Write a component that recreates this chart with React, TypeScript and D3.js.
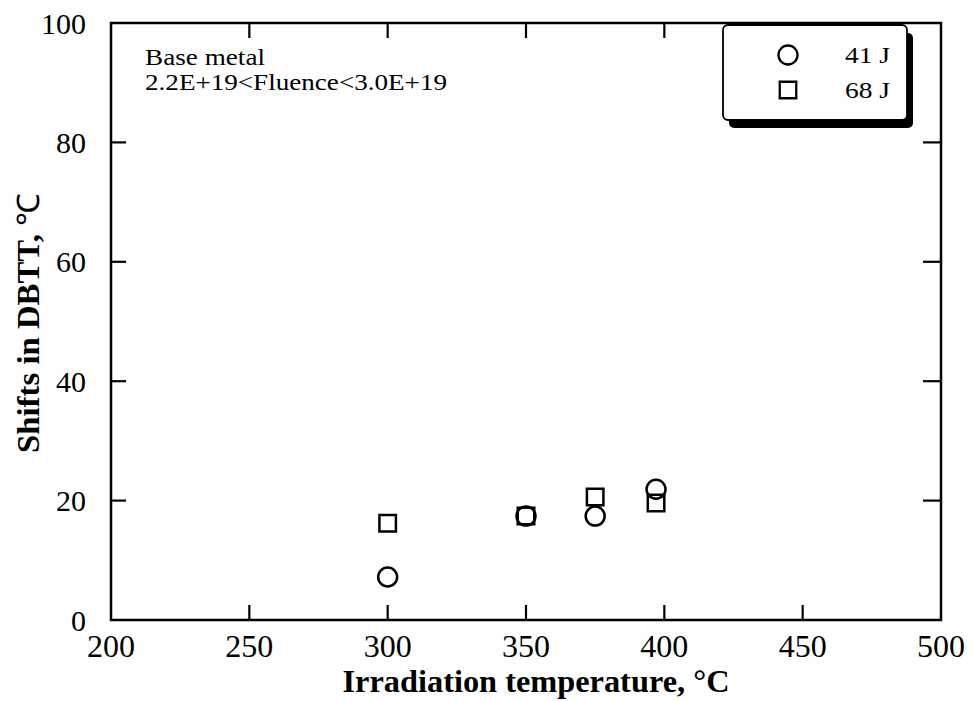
import React from "react";
import * as d3 from "d3";

const temps41 = [300, 350, 375, 397];
const shifts41 = [7.2, 17.4, 17.4, 21.9];
const temps68 = [300, 350, 375, 397];
const shifts68 = [16.2, 17.4, 20.6, 19.6];
const xTicks = [200, 250, 300, 350, 400, 450, 500];
const yTicks = [0, 20, 40, 60, 80, 100];
const legendLabels = ["41 J", "68 J"];

const W = 973;
const H = 701;
const FONT = "'Liberation Serif', 'Times New Roman', serif";

export default function App() {
  const x = d3.scaleLinear().domain([200, 500]).range([111, 941]);
  const y = d3.scaleLinear().domain([0, 100]).range([620, 23]);
  const [x0, x1] = x.range();
  const [y0, y1] = y.range();
  const circ = d3.symbol().type(d3.symbolCircle).size(Math.PI * 9.5 * 9.5);
  const sq = d3.symbol().type(d3.symbolSquare).size(16.5 * 16.5);
  const innerX = xTicks.filter((t) => t > 200 && t < 500);
  const innerY = yTicks.filter((t) => t > 0 && t < 100);

  const lx = 723, ly = 25, lw = 184, lh = 95;

  return (
    <svg
      width={W}
      height={H}
      style={{ position: "absolute", left: 0, top: 0, background: "#fff" }}
    >
      <rect x={0} y={0} width={W} height={H} fill="#fff" />
      {/* frame */}
      <rect x={x0} y={y1} width={x1 - x0} height={y0 - y1} fill="none" stroke="#000" strokeWidth={2.5} />
      {/* ticks */}
      {innerX.map((t) => (
        <g key={"xt" + t}>
          <line x1={x(t)} x2={x(t)} y1={y0} y2={y0 - 15} stroke="#000" strokeWidth={2.2} />
          <line x1={x(t)} x2={x(t)} y1={y1} y2={y1 + 15} stroke="#000" strokeWidth={2.2} />
        </g>
      ))}
      {innerY.map((t) => (
        <g key={"yt" + t}>
          <line x1={x0} x2={x0 + 15} y1={y(t)} y2={y(t)} stroke="#000" strokeWidth={2.2} />
          <line x1={x1} x2={x1 - 18} y1={y(t)} y2={y(t)} stroke="#000" strokeWidth={2.2} />
        </g>
      ))}
      {/* tick labels */}
      {xTicks.map((t) => (
        <text key={"xl" + t} x={x(t)} y={657} textAnchor="middle" fontFamily={FONT} fontSize={32} fill="#000">
          {t}
        </text>
      ))}
      {yTicks.map((t) => (
        <text key={"yl" + t} x={86} y={y(t)} dy="0.35em" textAnchor="end" fontFamily={FONT} fontSize={30} fill="#000">
          {t}
        </text>
      ))}
      {/* axis titles */}
      <text x={536} y={692} textAnchor="middle" fontFamily={FONT} fontSize={31} fontWeight="bold" fill="#000" textLength={387} lengthAdjust="spacingAndGlyphs">
        Irradiation temperature, °C
      </text>
      <text transform="translate(39,323) rotate(-90)" textAnchor="middle" fontFamily={FONT} fontSize={31} fontWeight="bold" fill="#000" textLength={260} lengthAdjust="spacingAndGlyphs">
        Shifts in DBTT, <tspan fontWeight="normal">℃</tspan>
      </text>
      {/* annotation */}
      <text x={145} y={65} fontFamily={FONT} fontSize={23} fill="#000" textLength={120} lengthAdjust="spacingAndGlyphs">
        Base metal
      </text>
      <text x={145} y={90} fontFamily={FONT} fontSize={23} fill="#000" textLength={302} lengthAdjust="spacingAndGlyphs">
        2.2E+19&lt;Fluence&lt;3.0E+19
      </text>
      {/* legend */}
      <rect x={lx + 6} y={ly + 8} width={lw} height={lh} rx={5} fill="#000" />
      <rect x={lx} y={ly} width={lw} height={lh} rx={5} fill="#fff" stroke="#000" strokeWidth={1.8} />
      <path d={circ() as string} transform={`translate(788,55)`} fill="none" stroke="#000" strokeWidth={2.3} />
      <path d={sq() as string} transform={`translate(788,90)`} fill="none" stroke="#000" strokeWidth={2.3} />
      <text x={845} y={63} fontFamily={FONT} fontSize={23} fill="#000" textLength={45} lengthAdjust="spacingAndGlyphs">
        {legendLabels[0]}
      </text>
      <text x={845} y={98} fontFamily={FONT} fontSize={23} fill="#000" textLength={45} lengthAdjust="spacingAndGlyphs">
        {legendLabels[1]}
      </text>
      {/* data */}
      {temps68.map((t, i) => (
        <path key={"s" + i} d={sq() as string} transform={`translate(${x(t)},${y(shifts68[i])})`} fill="none" stroke="#000" strokeWidth={2.5} />
      ))}
      {temps41.map((t, i) => (
        <path key={"c" + i} d={circ() as string} transform={`translate(${x(t)},${y(shifts41[i])})`} fill="none" stroke="#000" strokeWidth={2.5} />
      ))}
    </svg>
  );
}
